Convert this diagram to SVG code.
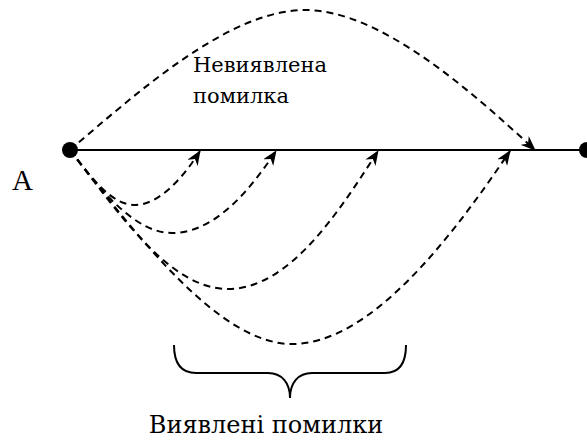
<svg xmlns="http://www.w3.org/2000/svg" width="587" height="441" viewBox="0 0 587 441">
<style>
.dash{fill:none;stroke:#000;stroke-width:2;stroke-dasharray:7 5;marker-end:url(#arr)}
.solid{fill:none;stroke:#000;stroke-width:2}
text{font-family:'Liberation Serif','Times New Roman',serif;fill:#000}
.cy{font-family:'DejaVu Serif',serif;font-size:21px}
</style>
<defs>
<marker id="arr" markerUnits="userSpaceOnUse" markerWidth="16" markerHeight="12" refX="14" refY="6" orient="auto" viewBox="0 0 16 12">
<path d="M0,0 L15,6 L0,12 L4.5,6 z" fill="#000"/>
</marker>
</defs>
<g id="connectors">
<line class="solid" x1="70" y1="150" x2="587" y2="150"/>
<path class="dash" d="M70,150 C140,90 230,10 305,10 C380,10 470,90 535,150"/>
<path class="dash" d="M70,150 C90,175 110,205 135,205 C160,205 185,175 200,151"/>
<path class="dash" d="M70,150 C100,190 135,233 172,233 C215,233 250,190 276,151"/>
<path class="dash" d="M70,150 C120,215 170,289 228,289 C290,289 340,210 378,151"/>
<path class="dash" d="M70,150 C140,240 220,344 292,344 C370,344 450,240 510,151"/>
</g>
<g id="nodeA">
<circle cx="70" cy="150" r="8" fill="#000"/>
<text x="12" y="190" font-size="29">A</text>
</g>
<g id="nodeB">
<circle cx="587" cy="150" r="8" fill="#000"/>
</g>
<g id="undetected">
<text class="cy" x="193" y="72">Невиявлена</text>
<text class="cy" x="193" y="103">помилка</text>
</g>
<g id="detected">
<path class="solid" d="M174,345 C174,362 180,373 196,373 L268,373 C282,373 290,383 290,398 C290,383 298,373 312,373 L385,373 C400,373 406,362 406,345"/>
<text class="cy" x="266" y="433" text-anchor="middle" style="font-size:24px">Виявлені помилки</text>
</g>
</svg>
